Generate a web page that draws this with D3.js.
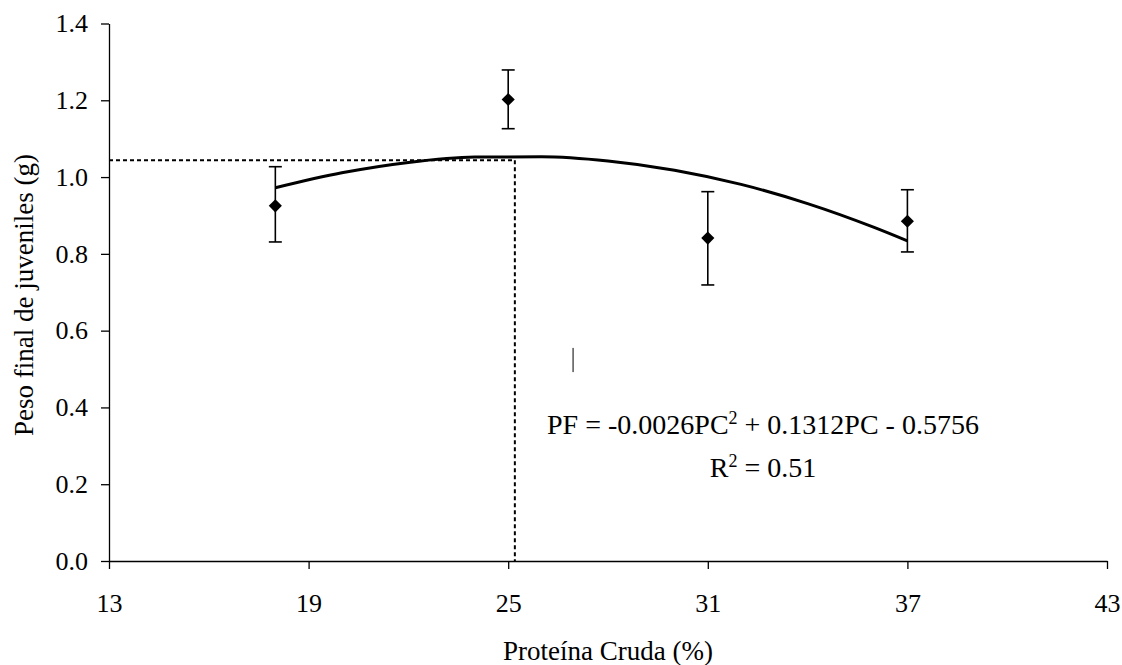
<!DOCTYPE html>
<html>
<head>
<meta charset="utf-8">
<script src="https://cdn.jsdelivr.net/npm/d3@7/dist/d3.min.js"></script>
<style>
  html, body { margin: 0; padding: 0; background: #fff; }
  svg { display: block; }
  text { font-family: "Liberation Serif", "Times New Roman", Times, serif; fill: #000; }
</style>
</head>
<body>
<svg id="chart" width="1122" height="665"></svg>
<script>
// Dietary crude protein (%) and final juvenile weight (g)
const proteinLevels = [18, 25, 31, 37];
const meanWeight    = [0.925, 1.202, 0.841, 0.885];
const errUpper      = [1.027, 1.279, 0.962, 0.967];
const errLower      = [0.831, 1.126, 0.719, 0.805];

// Polynomial trend line as plotted
const trendX = [18, 20, 22, 24, 26, 28, 30, 32, 34, 36, 37];
const trendY = [0.972, 1.011, 1.038, 1.052, 1.053, 1.042, 1.018, 0.981, 0.931, 0.869, 0.834];

// Optimum protein level marked with guide lines
const optimum = { pc: 25.2, pf: 1.044 };

const xTicks = [13, 19, 25, 31, 37, 43];
const yTicks = [0.0, 0.2, 0.4, 0.6, 0.8, 1.0, 1.2, 1.4];

const equationText = { main: "PF = -0.0026PC", sup: "2", rest: " + 0.1312PC - 0.5756" };
const r2Text = { main: "R", sup: "2", rest: " = 0.51" };
const xTitle = "Proteína Cruda (%)";
const yTitle = "Peso final de juveniles (g)";

const FONT = '"Liberation Serif", "Times New Roman", Times, serif';
const svg = d3.select("#chart");
const x = d3.scaleLinear().domain([13, 43]).range([109, 1107]);
const y = d3.scaleLinear().domain([0, 1.4]).range([561, 23.5]);

// Axes
const xAxis = svg.append("g")
  .attr("transform", `translate(0,${y(0)})`)
  .call(d3.axisBottom(x).tickValues(xTicks).tickFormat(d3.format("d"))
        .tickSizeInner(8).tickSizeOuter(0).tickPadding(25));
const yAxis = svg.append("g")
  .attr("transform", `translate(${x(13)},0)`)
  .call(d3.axisLeft(y).tickValues(yTicks).tickFormat(d3.format(".1f"))
        .tickSizeInner(8).tickSizeOuter(0).tickPadding(13));
[xAxis, yAxis].forEach(g => {
  g.attr("font-family", FONT);
  g.selectAll("path, line").attr("stroke", "#000").attr("stroke-width", 1.3);
  g.selectAll("text").attr("font-family", FONT).style("font-family", FONT)
    .style("font-size", "26px").attr("fill", "#000");
});

// Guide lines to the optimum
const guide = svg.append("g").attr("stroke", "#000").attr("stroke-width", 2)
  .attr("stroke-dasharray", "4,3").attr("fill", "none");
guide.append("line")
  .attr("x1", x(13)).attr("x2", x(optimum.pc))
  .attr("y1", y(optimum.pf)).attr("y2", y(optimum.pf));
guide.append("line")
  .attr("x1", x(optimum.pc)).attr("x2", x(optimum.pc))
  .attr("y1", y(optimum.pf)).attr("y2", y(0));

// Trend curve
const line = d3.line().x((d, i) => x(trendX[i])).y(d => y(d)).curve(d3.curveMonotoneX);
svg.append("path")
  .datum(trendY)
  .attr("d", line)
  .attr("fill", "none")
  .attr("stroke", "#000")
  .attr("stroke-width", 3)
  .attr("stroke-linejoin", "round");

// Error bars
const pts = proteinLevels.map((pc, i) => ({ pc, m: meanWeight[i], hi: errUpper[i], lo: errLower[i] }));
const eb = svg.append("g").attr("stroke", "#000").attr("stroke-width", 1.6);
const capW = 6.5;
pts.forEach(d => {
  eb.append("line").attr("x1", x(d.pc)).attr("x2", x(d.pc)).attr("y1", y(d.hi)).attr("y2", y(d.lo));
  eb.append("line").attr("x1", x(d.pc) - capW).attr("x2", x(d.pc) + capW).attr("y1", y(d.hi)).attr("y2", y(d.hi));
  eb.append("line").attr("x1", x(d.pc) - capW).attr("x2", x(d.pc) + capW).attr("y1", y(d.lo)).attr("y2", y(d.lo));
});

// Diamond markers
svg.append("g").selectAll("path")
  .data(pts)
  .join("path")
  .attr("d", d3.symbol().type(d3.symbolDiamond2).size(110))
  .attr("transform", d => `translate(${x(d.pc)},${y(d.m)})`)
  .attr("fill", "#000");

// Small stray tick mark in the plot area
svg.append("line")
  .attr("x1", x(26.95)).attr("x2", x(26.95))
  .attr("y1", y(0.555)).attr("y2", y(0.492))
  .attr("stroke", "#000").attr("stroke-width", 1);

// Regression equation and R²
function supText(sel, t, cx, by, fs) {
  const el = sel.append("text").attr("x", cx).attr("y", by)
    .attr("text-anchor", "middle").attr("font-family", FONT).style("font-size", fs + "px");
  el.append("tspan").text(t.main);
  el.append("tspan").text(t.sup).attr("dy", -10).style("font-size", "18px");
  el.append("tspan").text(t.rest).attr("dy", 10);
  return el;
}
supText(svg, equationText, 763, 434, 28);
supText(svg, r2Text, 763, 477, 28);

// Axis titles
svg.append("text")
  .attr("x", (x(13) + x(43)) / 2).attr("y", 660)
  .attr("text-anchor", "middle").attr("font-family", FONT).style("font-size", "27px")
  .text(xTitle);
svg.append("text")
  .attr("transform", `translate(33,295) rotate(-90)`)
  .attr("text-anchor", "middle").attr("font-family", FONT).style("font-size", "27px")
  .text(yTitle);
</script>
</body>
</html>
